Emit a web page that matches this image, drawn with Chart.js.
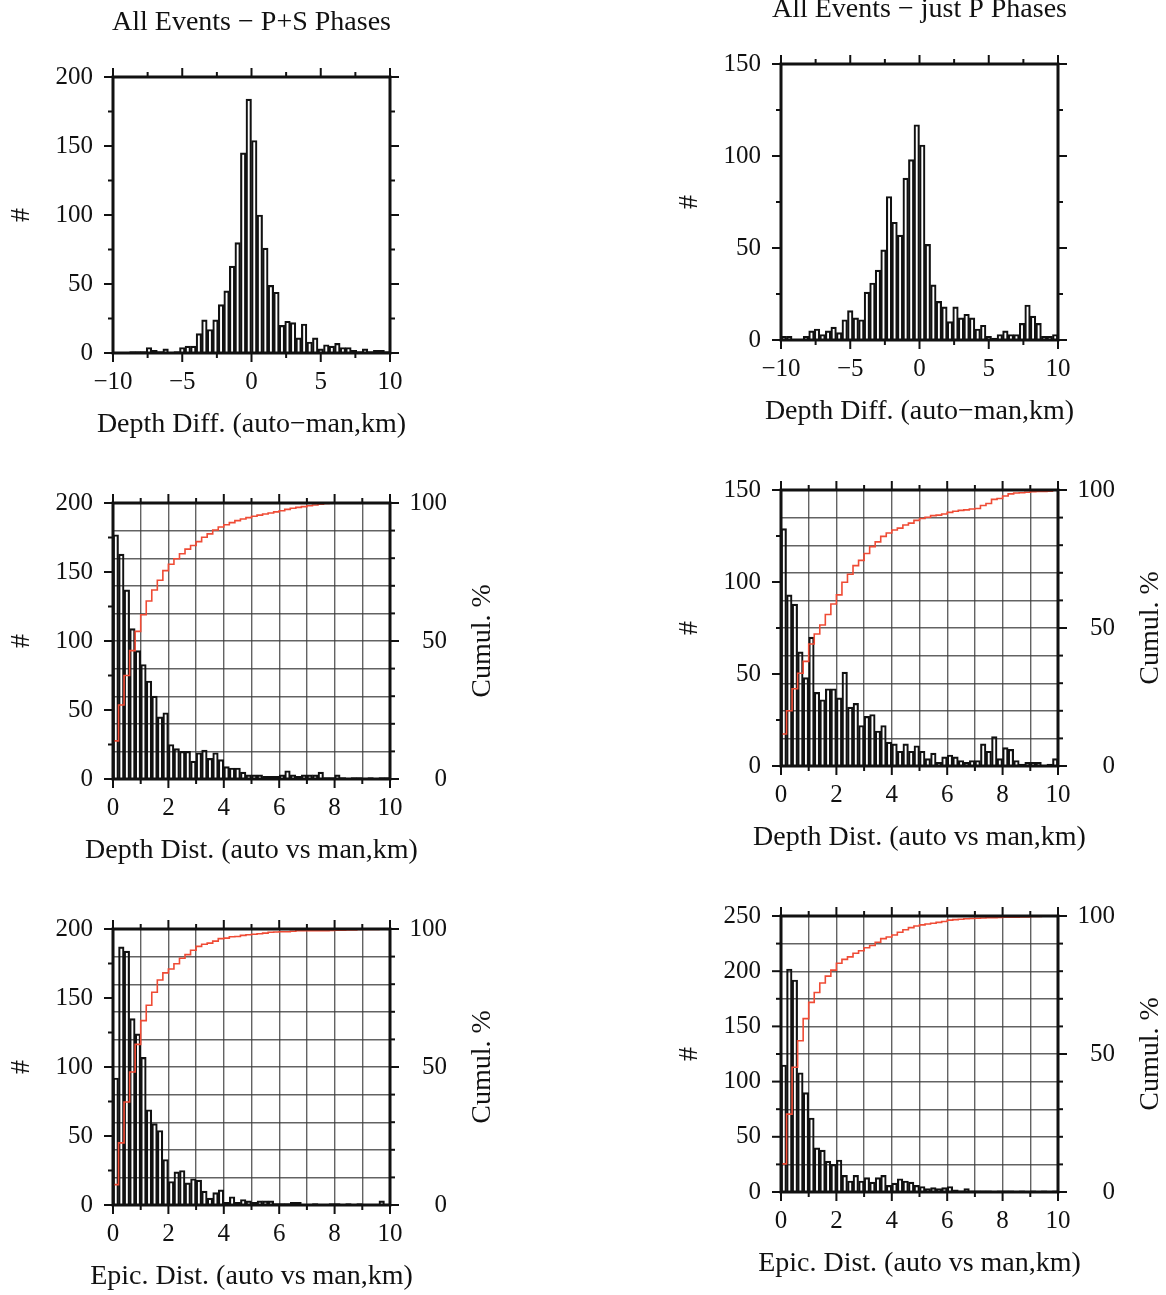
<!DOCTYPE html>
<html>
<head>
<meta charset="utf-8">
<title>Auto vs manual locations</title>
<script src="https://cdn.jsdelivr.net/npm/chart.js@4.4.1/dist/chart.umd.min.js"></script>
<style>
  html, body { margin: 0; padding: 0; background: #fff; }
  body { width: 1166px; height: 1295px; position: relative; overflow: hidden; }
  canvas { position: absolute; }
</style>
</head>
<body>
<canvas id="diffPS"  width="520" height="445" style="left:0;top:0"></canvas>
<canvas id="diffP"   width="520" height="445" style="left:668px;top:-13px"></canvas>
<canvas id="depthPS" width="520" height="445" style="left:0;top:426px"></canvas>
<canvas id="depthP"  width="520" height="445" style="left:668px;top:413px"></canvas>
<canvas id="epicPS"  width="520" height="445" style="left:0;top:852px"></canvas>
<canvas id="epicP"   width="520" height="445" style="left:668px;top:839px"></canvas>
<script>
// Bin layout: depth differences use 0.4 km bins over -10..10, distances 0.2 km bins over 0..10
const DIFF_START = -10, DIFF_WIDTH = 0.4;
const DIST_START = 0, DIST_WIDTH = 0.2;

const DIFF_LABELS = [-10, -5, 0, 5, 10];
const DIST_LABELS = [0, 2, 4, 6, 8, 10];
const CUM_LABELS = [0, 50, 100];

// counts per bin
const diffPS = [0, 0, 0, 1, 1, 1, 4, 2, 1, 3, 0, 1, 4, 5, 5, 14, 24, 17, 24, 35, 45, 63, 80, 145, 184,
                154, 100, 76, 49, 44, 20, 23, 22, 11, 21, 8, 11, 3, 6, 5, 7, 4, 4, 2, 1, 3, 1, 2, 2, 1];
const diffP = [2, 2, 0, 0, 2, 5, 6, 3, 5, 7, 4, 11, 16, 12, 11, 26, 31, 38, 49, 78, 64, 57, 88, 98, 117,
               106, 52, 30, 21, 18, 10, 18, 12, 14, 12, 6, 8, 2, 1, 3, 5, 3, 3, 9, 19, 13, 9, 2, 2, 3];

const depthPS = [177, 163, 137, 109, 93, 83, 71, 60, 45, 48, 25, 22, 20, 20, 13, 19, 21, 15, 19, 14, 9, 8, 8, 5, 3,
                 3, 3, 2, 2, 2, 3, 6, 3, 2, 3, 3, 3, 5, 1, 1, 3, 1, 0, 1, 1, 0, 1, 0, 1, 1];
const depthPSCum = [13.8, 26.8, 37.5, 46.5, 53.5, 59.5, 64.5, 68.5, 72, 75.5, 77.8, 79.8, 81.6, 83.3, 84.6, 86.0, 87.6,
                    88.8, 90.2, 91.3, 92.1, 92.9, 93.6, 94.2, 94.7, 95.2, 95.6, 96.0, 96.4, 96.8, 97.2, 97.7, 98.1,
                    98.4, 98.7, 99.0, 99.3, 99.6, 99.8, 99.9, 100, 100, 100, 100, 100, 100, 100, 100, 100, 100];

const depthP = [129, 93, 88, 62, 48, 70, 40, 36, 42, 42, 37, 51, 32, 34, 22, 27, 28, 19, 22, 13, 12, 8, 12, 8, 11,
                8, 4, 7, 2, 5, 6, 5, 3, 2, 3, 3, 12, 8, 16, 4, 10, 9, 3, 1, 2, 2, 2, 0, 1, 4];
const depthPCum = [11.6, 20.0, 28.0, 33.6, 37.9, 44.2, 47.8, 51.1, 54.9, 58.7, 62.0, 66.6, 69.5, 72.6, 74.5, 77.0, 79.5,
                   81.2, 83.2, 84.4, 85.5, 86.2, 87.3, 88.0, 89.0, 89.7, 90.1, 90.7, 90.9, 91.3, 91.9, 92.3, 92.6,
                   92.8, 93.1, 93.3, 94.4, 95.1, 96.6, 96.9, 97.8, 98.6, 98.9, 99.0, 99.2, 99.4, 99.5, 99.5, 99.6, 100];

const epicPS = [92, 187, 184, 135, 124, 107, 69, 59, 54, 33, 17, 24, 25, 16, 19, 18, 10, 5, 9, 11, 2, 6, 2, 4, 3,
                2, 3, 3, 3, 1, 1, 1, 2, 2, 0, 0, 1, 0, 0, 1, 1, 0, 1, 0, 1, 0, 0, 0, 3, 0];
const epicPSCum = [7.4, 22.5, 37.3, 48.2, 58.2, 66.8, 72.4, 77.1, 81.5, 84.1, 85.5, 87.4, 89.4, 90.7, 92.3, 93.7, 94.5,
                   94.9, 95.6, 96.5, 96.7, 97.2, 97.3, 97.7, 97.9, 98.1, 98.3, 98.5, 98.8, 98.9, 99.0, 99.0, 99.2,
                   99.4, 99.4, 99.4, 99.4, 99.4, 99.4, 99.5, 99.6, 99.6, 99.7, 99.7, 99.8, 99.8, 99.8, 99.8, 100, 100];

const epicP = [115, 202, 192, 108, 90, 67, 40, 38, 28, 25, 29, 15, 10, 15, 10, 13, 9, 13, 15, 6, 8, 12, 10, 9, 6,
               5, 3, 4, 3, 4, 5, 2, 1, 3, 1, 1, 1, 1, 0, 1, 1, 1, 0, 1, 0, 1, 0, 1, 0, 1];
const epicPCum = [10.2, 28.2, 45.2, 54.8, 62.8, 68.7, 72.3, 75.7, 78.2, 80.4, 82.9, 84.3, 85.2, 86.5, 87.4, 88.5, 89.3,
                  90.5, 91.8, 92.4, 93.1, 94.1, 95.0, 95.8, 96.4, 96.8, 97.1, 97.4, 97.7, 98.0, 98.5, 98.7, 98.8,
                  99.0, 99.1, 99.2, 99.3, 99.4, 99.4, 99.5, 99.6, 99.6, 99.6, 99.7, 99.7, 99.8, 99.8, 99.9, 99.9, 100];

(function () {
    'use strict';

    const FONT = "'Liberation Serif', 'Times New Roman', 'DejaVu Serif', serif";
    const INK = '#111';
    const GRID = 'rgba(60, 60, 60, 0.8)';
    const CUM_RED = '#ef4b35';
    const TICK_FONT = { family: FONT, size: 25, lineHeight: 1.2 };
    const LABEL_FONT = { family: FONT, size: 28, lineHeight: 1.2, weight: 'normal' };

    const minus = v => (v < 0 ? '\u2212' + (-v) : String(v));
    const onStep = (v, step) => Math.abs(v / step - Math.round(v / step)) < 1e-6;

    function barPoints(start, width, counts) {
        return counts.map((c, i) => ({ x: start + width * (i + 0.5), y: c }));
    }

    // step line: flat across each bin at the running percentage
    function cumPoints(start, width, cum) {
        const pts = [{ x: start, y: 0 }];
        cum.forEach((v, i) => pts.push({ x: start + width * i, y: v }));
        pts.push({ x: start + width * cum.length, y: cum[cum.length - 1] });
        return pts;
    }

    // thick frame, outward tick marks and the free-standing labels
    // (drawn here so the text keeps its natural width instead of being squeezed to the axis)
    const framePlugin = {
        id: 'frame',
        afterDraw(chart, args, opts) {
            const { ctx, chartArea: a, scales } = chart;
            const cx = (a.left + a.right) / 2;
            ctx.save();
            ctx.strokeStyle = INK;
            ctx.lineWidth = 2;
            const mark = (x1, y1, x2, y2) => {
                ctx.beginPath(); ctx.moveTo(x1, y1); ctx.lineTo(x2, y2); ctx.stroke();
            };

            const xs = scales.x;
            const nx = Math.round((xs.max - xs.min) / opts.xMinor);
            for (let i = 0; i <= nx; i++) {
                const v = xs.min + i * opts.xMinor;
                const len = onStep(v, opts.xMajor) ? 9 : 5;
                const px = xs.getPixelForValue(v);
                mark(px, a.bottom, px, a.bottom + len);
                mark(px, a.top, px, a.top - len);
            }

            const ys = scales.y;
            const ny = Math.round(ys.max / 25);
            for (let i = 0; i <= ny; i++) {
                const v = i * 25;
                const len = onStep(v, 50) ? 9 : 5;
                const py = ys.getPixelForValue(v);
                mark(a.left, py, a.left - len, py);
                if (!scales.y2) mark(a.right, py, a.right + len, py);
            }

            if (scales.y2) {
                const s2 = scales.y2;
                for (let v = 0; v <= 100; v += 10) {
                    const py = s2.getPixelForValue(v);
                    mark(a.right, py, a.right + (v % 50 === 0 ? 9 : 5), py);
                }
            }

            ctx.lineWidth = 3;
            ctx.strokeRect(a.left, a.top, a.right - a.left, a.bottom - a.top);

            ctx.font = '28px ' + FONT;
            ctx.fillStyle = INK;
            ctx.textAlign = 'center';
            ctx.textBaseline = 'middle';
            if (opts.title) ctx.fillText(opts.title, cx, a.top - 54);
            ctx.fillText(opts.xTitle, cx, a.bottom + 72);

            if (opts.sideTitle) {
                ctx.translate(a.right + 93, (a.top + a.bottom) / 2);
                ctx.rotate(-Math.PI / 2);
                ctx.fillText(opts.sideTitle, 0, 0);
            }
            ctx.restore();
        },
    };

    function panel(id, cfg) {
        const hasCum = !!cfg.cum;
        const datasets = [{
            type: 'bar',
            data: barPoints(cfg.start, cfg.width, cfg.counts),
            backgroundColor: 'rgba(0,0,0,0)',
            borderColor: INK,
            borderWidth: 1.5,
            barPercentage: 1,
            categoryPercentage: 1,
            yAxisID: 'y',
            order: 2,
        }];
        if (hasCum) {
            datasets.push({
                type: 'line',
                data: cumPoints(cfg.start, cfg.width, cfg.cum),
                borderColor: CUM_RED,
                borderWidth: 1.6,
                pointRadius: 0,
                stepped: 'before',
                yAxisID: 'y2',
                order: 1,
            });
        }

        const scales = {
            x: {
                type: 'linear',
                min: cfg.xMin,
                max: cfg.xMax,
                offset: false,
                afterFit: s => { s.height = 92; },
                ticks: {
                    stepSize: cfg.xStep,
                    autoSkip: false,
                    maxRotation: 0,
                    padding: 14,
                    color: INK,
                    font: TICK_FONT,
                    callback: v => (cfg.xLabels.includes(v) ? minus(v) : ''),
                },
                grid: { display: hasCum, offset: false, drawTicks: false, color: GRID, lineWidth: 1.4 },
                border: { display: false },
            },
            y: {
                position: 'left',
                min: 0,
                max: cfg.yMax,
                afterFit: s => { s.width = 113; },
                ticks: { stepSize: 50, autoSkip: false, padding: 20, color: INK, font: TICK_FONT },
                grid: { display: false, drawTicks: false },
                border: { display: false },
                title: { display: true, text: '#', color: INK, font: LABEL_FONT, padding: { top: 5, bottom: 0 } },
            },
        };
        if (hasCum) {
            scales.y2 = {
                position: 'right',
                min: 0,
                max: 100,
                afterFit: s => { s.width = 57; },
                ticks: {
                    stepSize: 10,
                    autoSkip: false,
                    crossAlign: 'far',
                    color: INK,
                    font: TICK_FONT,
                    callback: v => (CUM_LABELS.includes(v) ? String(v) : ''),
                },
                grid: { color: GRID, lineWidth: 1.4, drawTicks: false },
                border: { display: false },
            };
        }

        new Chart(document.getElementById(id), {
            type: 'bar',
            data: { datasets },
            plugins: [framePlugin],
            options: {
                responsive: false,
                animation: false,
                events: [],
                layout: { padding: { left: 0, top: 77, right: hasCum ? 73 : 130, bottom: 0 } },
                scales,
                plugins: {
                    legend: { display: false },
                    tooltip: { enabled: false },
                    title: { display: false },
                    frame: {
                        xMajor: cfg.xMajor,
                        xMinor: cfg.xMinor,
                        title: cfg.title || '',
                        xTitle: cfg.xTitle,
                        sideTitle: hasCum ? 'Cumul. %' : '',
                    },
                },
            },
        });
    }

    const diffCommon = {
        start: DIFF_START, width: DIFF_WIDTH, xMin: -10, xMax: 10, xStep: 5,
        xLabels: DIFF_LABELS, xMajor: 5, xMinor: 2.5,
        xTitle: 'Depth Diff. (auto\u2212man,km)',
    };
    const distCommon = {
        start: DIST_START, width: DIST_WIDTH, xMin: 0, xMax: 10, xStep: 1,
        xLabels: DIST_LABELS, xMajor: 2, xMinor: 1,
    };

    panel('diffPS', Object.assign({}, diffCommon, { counts: diffPS, yMax: 200, title: 'All Events \u2212 P+S Phases' }));
    panel('diffP', Object.assign({}, diffCommon, { counts: diffP, yMax: 150, title: 'All Events \u2212 just P Phases' }));
    panel('depthPS', Object.assign({}, distCommon, { counts: depthPS, cum: depthPSCum, yMax: 200, xTitle: 'Depth Dist. (auto vs man,km)' }));
    panel('depthP', Object.assign({}, distCommon, { counts: depthP, cum: depthPCum, yMax: 150, xTitle: 'Depth Dist. (auto vs man,km)' }));
    panel('epicPS', Object.assign({}, distCommon, { counts: epicPS, cum: epicPSCum, yMax: 200, xTitle: 'Epic. Dist. (auto vs man,km)' }));
    panel('epicP', Object.assign({}, distCommon, { counts: epicP, cum: epicPCum, yMax: 250, xTitle: 'Epic. Dist. (auto vs man,km)' }));
})();
</script>
</body>
</html>
